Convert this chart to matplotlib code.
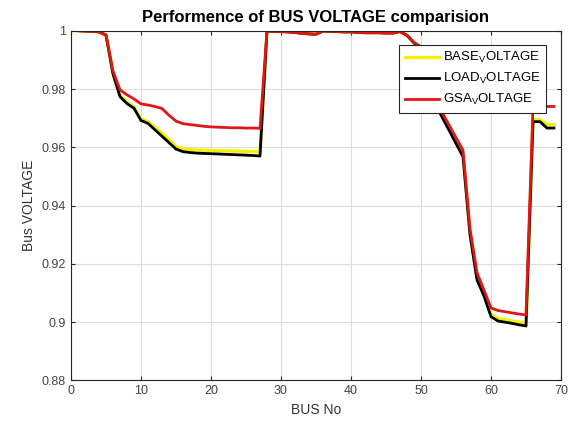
import matplotlib

matplotlib.use("Agg")
import matplotlib.pyplot as plt
from matplotlib.ticker import FuncFormatter

plt.rcParams["font.family"] = ["Liberation Sans", "DejaVu Sans"]
plt.rcParams["mathtext.default"] = "regular"

bus = list(range(1, 70))

# values, bus 1..69
base_voltage = [
    1.0000, 0.9999, 0.9998, 0.9996, 0.9985, 0.9855, 0.9778, 0.9755, 0.9738, 0.9698,
    0.9688, 0.9668, 0.9648, 0.9625, 0.9602, 0.9594, 0.9592, 0.9591, 0.9590, 0.9589,
    0.9588, 0.9588, 0.9587, 0.9587, 0.9586, 0.9586, 0.9585, 0.9999, 0.9998, 0.9997,
    0.9996, 0.9994, 0.9991, 0.9989, 0.9988, 0.9999, 0.9998, 0.9997, 0.9996, 0.9996,
    0.9994, 0.9993, 0.9993, 0.9993, 0.9992, 0.9992, 0.9997, 0.9984, 0.9958, 0.9942,
    0.9785, 0.9755, 0.9710, 0.9665, 0.9619, 0.9574, 0.9310, 0.9152, 0.9095, 0.9027,
    0.9012, 0.9008, 0.9004, 0.9000, 0.8997, 0.9695, 0.9695, 0.9678, 0.9678,
]
load_voltage = [
    1.0000, 0.9999, 0.9998, 0.9996, 0.9985, 0.9852, 0.9774, 0.9750, 0.9734, 0.9692,
    0.9682, 0.9660, 0.9638, 0.9616, 0.9594, 0.9585, 0.9582, 0.9580, 0.9579, 0.9578,
    0.9577, 0.9576, 0.9575, 0.9574, 0.9573, 0.9572, 0.9570, 0.9999, 0.9998, 0.9997,
    0.9996, 0.9994, 0.9991, 0.9989, 0.9988, 0.9999, 0.9998, 0.9997, 0.9996, 0.9996,
    0.9994, 0.9993, 0.9993, 0.9993, 0.9992, 0.9992, 0.9997, 0.9984, 0.9958, 0.9940,
    0.9780, 0.9750, 0.9704, 0.9659, 0.9613, 0.9568, 0.9300, 0.9145, 0.9090, 0.9019,
    0.9004, 0.9000, 0.8996, 0.8991, 0.8987, 0.9688, 0.9688, 0.9666, 0.9666,
]
gsa_voltage = [
    1.0000, 0.9999, 0.9998, 0.9996, 0.9986, 0.9862, 0.9797, 0.9780, 0.9766, 0.9749,
    0.9745, 0.9740, 0.9733, 0.9710, 0.9690, 0.9681, 0.9678, 0.9675, 0.9672, 0.9670,
    0.9669, 0.9668, 0.9667, 0.9667, 0.9666, 0.9666, 0.9665, 0.9999, 0.9998, 0.9997,
    0.9996, 0.9994, 0.9991, 0.9989, 0.9988, 0.9999, 0.9998, 0.9997, 0.9996, 0.9996,
    0.9994, 0.9993, 0.9993, 0.9993, 0.9992, 0.9992, 0.9997, 0.9985, 0.9960, 0.9945,
    0.9790, 0.9762, 0.9720, 0.9677, 0.9633, 0.9590, 0.9320, 0.9170, 0.9110, 0.9049,
    0.9040, 0.9036, 0.9032, 0.9028, 0.9025, 0.9740, 0.9740, 0.9740, 0.9740,
]

x_ticks = [0, 10, 20, 30, 40, 50, 60, 70]
y_ticks = [0.88, 0.9, 0.92, 0.94, 0.96, 0.98, 1.0]


def main():
    fig = plt.figure(figsize=(5.71, 4.23), dpi=100)
    ax = fig.add_axes([0.1243, 0.1005, 0.8582, 0.8269])

    ax.plot(bus, base_voltage, color="#f5f000", linewidth=2.4, label="BASE$_V$OLTAGE")
    ax.plot(bus, load_voltage, color="black", linewidth=2.0, label="LOAD$_V$OLTAGE")
    ax.plot(bus, gsa_voltage, color="#e0161b", linewidth=2.0, label="GSA$_V$OLTAGE")

    ax.set_xlim(0, 70)
    ax.set_ylim(0.88, 1.0)
    ax.set_xticks(x_ticks)
    ax.set_yticks(y_ticks)
    ax.yaxis.set_major_formatter(FuncFormatter(lambda v, _: f"{v:g}"))
    ax.tick_params(direction="in", top=True, right=True, length=3,
                   labelsize=9, colors="#262626", labelcolor="#444444")
    ax.grid(True, color="#dddddd", linewidth=0.8)
    for spine in ax.spines.values():
        spine.set_color("#262626")
        spine.set_linewidth(0.8)

    ax.set_xlabel("BUS No", fontsize=10, color="#333333", labelpad=4)
    ax.set_ylabel("Bus VOLTAGE", fontsize=10, color="#333333", labelpad=4)
    ax.set_title("Performence of BUS VOLTAGE comparision", fontsize=12,
                 fontweight="bold", pad=6)

    legend = ax.legend(loc="upper right", bbox_to_anchor=(546 / 571, 1 - 45 / 423),
                       bbox_transform=fig.transFigure, borderaxespad=0, fontsize=9.5,
                       fancybox=False, framealpha=1, edgecolor="#262626",
                       handlelength=2.6, borderpad=0.4, labelspacing=0.45,
                       handletextpad=0.3)
    legend.get_frame().set_linewidth(0.8)

    fig.savefig("out.png", dpi=100)
    plt.close(fig)


if __name__ == "__main__":
    main()
